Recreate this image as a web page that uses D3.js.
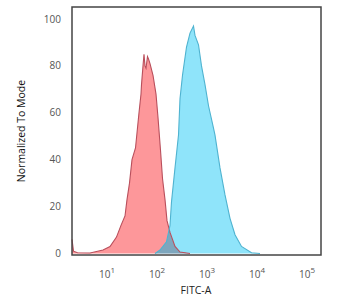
<!DOCTYPE html>
<html>
<head>
<meta charset="utf-8">
<script src="https://cdn.jsdelivr.net/npm/d3@7"></script>
<style>
  body { margin: 0; background: #fff; }
  svg { display: block; font-family: 'Open Sans', 'DejaVu Sans', sans-serif; }
</style>
</head>
<body>
<svg id="chart" width="350" height="299"></svg>
<script>
// histogram values, x is log10 of FITC-A
const redLog = [0.34, 0.37, 0.45, 0.7, 0.96, 1.1, 1.23, 1.32, 1.4, 1.44, 1.49, 1.54, 1.61, 1.68, 1.72, 1.73, 1.76, 1.78, 1.8, 1.82, 1.85, 1.87, 1.9, 1.96, 2.02, 2.06, 2.11, 2.15, 2.2, 2.24, 2.3, 2.4, 2.5, 2.7]
const redCount = [6, 1, 0.3, 0.2, 1.5, 3, 7, 12, 16, 23, 30, 40, 45, 60, 68, 72, 80, 85, 80, 79, 84, 83, 81, 76, 68, 58, 44, 32, 23, 14, 9, 3, 0.6, 0]
const blueLog = [2.0, 2.1, 2.23, 2.3, 2.33, 2.4, 2.47, 2.5, 2.55, 2.63, 2.7, 2.77, 2.8, 2.87, 2.93, 3.0, 3.07, 3.17, 3.2, 3.3, 3.4, 3.5, 3.6, 3.73, 3.93, 4.1]
const blueCount = [0, 1.5, 5, 12, 22, 36.5, 50.5, 66, 76, 88, 94, 97, 93, 89, 80, 72, 63, 53.5, 50.5, 36.5, 25, 15, 8, 3, 0.3, 0]
const xTicks = [1, 2, 3, 4, 5]
const yTicks = [0, 20, 40, 60, 80, 100]

const svg = d3.select('#chart')
const pLeft = 72
const pRight = 321
const pTop = 7
const pBottom = 255

const x = d3.scaleLinear().domain([0.34, 5.32]).range([pLeft, pRight])
const y = d3.scaleLinear().domain([0, 100]).range([253.5, 19])

const toPts = (xs, ys) => xs.map((d, i) => [d, ys[i]])
const red = toPts(redLog, redCount)
const blue = toPts(blueLog, blueCount)

const area = d3.area().x(d => x(d[0])).y0(y(0)).y1(d => y(d[1]))
const line = d3.line().x(d => x(d[0])).y(d => y(d[1]))

svg.append('clipPath').attr('id', 'redClip')
  .append('path').attr('d', area(red))

svg.append('path').attr('d', area(red)).attr('fill', '#fd979a')
svg.append('path').attr('d', area(blue)).attr('fill', '#8fe4fa')
// overlap of the two populations
svg.append('path').attr('d', area(blue)).attr('fill', '#7ea6bd').attr('clip-path', 'url(#redClip)')

svg.append('path').attr('d', line(red)).attr('fill', 'none').attr('stroke', '#b94f5c').attr('stroke-width', 1.1)
svg.append('path').attr('d', line(blue)).attr('fill', 'none').attr('stroke', '#4fb3d0').attr('stroke-width', 1.1)

// frame
svg.append('rect')
  .attr('x', pLeft).attr('y', pTop)
  .attr('width', pRight - pLeft).attr('height', pBottom - pTop)
  .attr('fill', 'none').attr('stroke', '#444').attr('stroke-width', 1.5)

// y tick labels
svg.selectAll('.ylab').data(yTicks).enter().append('text')
  .attr('x', 61).attr('y', d => y(d) + 3.5)
  .attr('text-anchor', 'end')
  .attr('font-size', 10).attr('fill', '#555')
  .text(d => d)

// x tick labels 10^n
const xl = svg.selectAll('.xlab').data(xTicks).enter().append('text')
  .attr('x', d => x(d) + 2).attr('y', 278)
  .attr('text-anchor', 'middle')
  .attr('font-size', 10).attr('fill', '#555')
xl.append('tspan').text('10')
xl.append('tspan').attr('dy', -5).attr('font-size', 8).text(d => d)

svg.append('text')
  .attr('x', 196).attr('y', 294)
  .attr('text-anchor', 'middle')
  .attr('font-size', 10.5).attr('fill', '#222')
  .text('FITC-A')

svg.append('text')
  .attr('transform', 'translate(25,131) rotate(-90)')
  .attr('text-anchor', 'middle')
  .attr('font-size', 10.5).attr('fill', '#111')
  .text('Normalized To Mode')
</script>
</body>
</html>
